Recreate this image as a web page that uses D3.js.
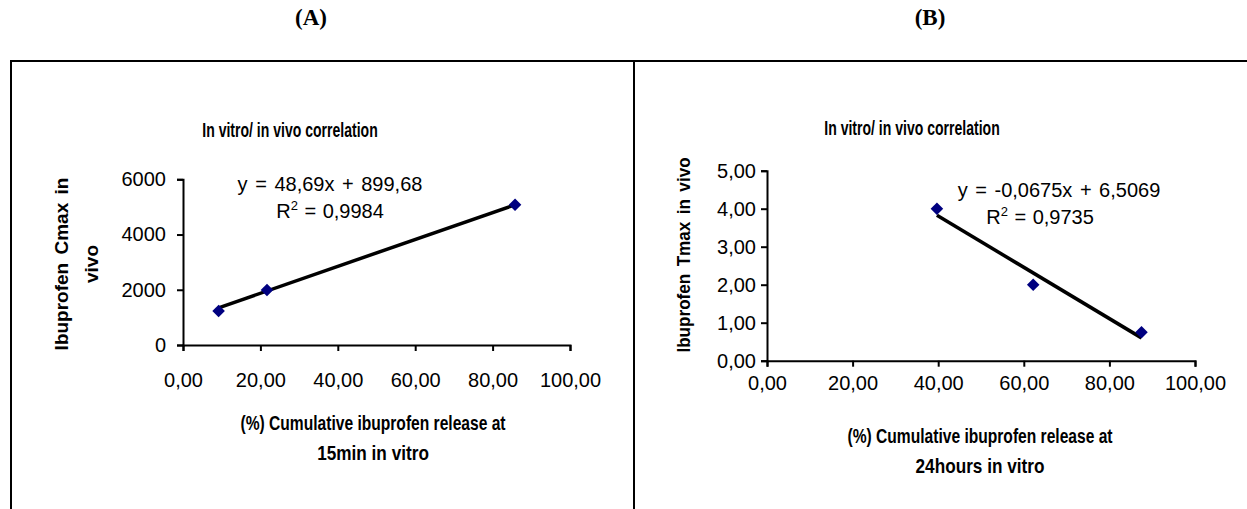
<!DOCTYPE html>
<html><head><meta charset="utf-8">
<script src="https://cdn.jsdelivr.net/npm/d3@7"></script>
<style>body{margin:0;background:#fff}svg{display:block}text{font-family:Arial,"Liberation Sans",sans-serif}</style>
</head><body><svg id="c" width="1247" height="509"></svg>
<script>
// Panel A data
const aX = [9.2, 21.7, 85.8];
const aY = [1230, 1990, 5080];
const aSlope = 48.69, aIntercept = 899.68;
const aXTicks = [0, 20, 40, 60, 80, 100];
const aYTicks = [0, 2000, 4000, 6000];
// Panel B data
const bX = [39.7, 62.2, 87.5];
const bY = [4.0, 2.0, 0.75];
const bSlope = -0.0675, bIntercept = 6.5069;
const bXTicks = [0, 20, 40, 60, 80, 100];
const bYTicks = [0, 1, 2, 3, 4, 5];

const svg = d3.select("#c");
const fmt2 = d3.format(".2f");
const comma = v => fmt2(v).replace(".", ",");
const BOLD = "Arial,'Liberation Sans',sans-serif";

// frame
svg.append("line").attr("x1",10).attr("x2",1247).attr("y1",61).attr("y2",61).attr("stroke","#000").attr("stroke-width",2);
svg.append("line").attr("x1",11).attr("x2",11).attr("y1",60).attr("y2",509).attr("stroke","#000").attr("stroke-width",2);
svg.append("line").attr("x1",634).attr("x2",634).attr("y1",60).attr("y2",509).attr("stroke","#000").attr("stroke-width",2);

[["(A)",311],["(B)",930]].forEach(([t,x])=>svg.append("text").attr("x",x).attr("y",25).attr("text-anchor","middle")
  .style("font-family","'Liberation Serif','Times New Roman',serif").style("font-size","23px").style("font-weight","bold").text(t));

function panel(o){
  const g = svg.append("g");
  const x = d3.scaleLinear().domain([0,100]).range([o.x0, o.x1]);
  const y = d3.scaleLinear().domain(o.yDomain).range([o.y0, o.y1]);
  g.append("text").attr("transform",`translate(${o.titleX},${o.titleY}) scale(0.72,1)`).attr("text-anchor","middle")
    .style("font-family",BOLD).style("font-size","19.5px").style("font-weight","bold").text("In vitro/ in vivo correlation");
  const xa = g.append("g").attr("transform",`translate(0,${o.y0})`)
    .call(d3.axisBottom(x).tickValues(o.xTicks).tickFormat(comma).tickSize(6).tickPadding(o.xPad));
  const ya = g.append("g").attr("transform",`translate(${o.x0},0)`)
    .call(d3.axisLeft(y).tickValues(o.yTicks).tickFormat(o.yFmt).tickSize(6).tickPadding(o.yPad));
  [xa,ya].forEach(a=>{
    a.selectAll("path").attr("stroke","#000").attr("stroke-width",2);
    a.selectAll("line").attr("stroke","#000").attr("stroke-width",2);
    a.selectAll("text").style("font-size","20px").attr("fill","#000").style("font-family","Arial,'Liberation Sans',sans-serif");
  });
  // trend line
  const xs = d3.extent(o.xs);
  g.append("line").attr("x1",x(xs[0])).attr("y1",y(o.slope*xs[0]+o.intercept))
    .attr("x2",x(xs[1])).attr("y2",y(o.slope*xs[1]+o.intercept))
    .attr("stroke","#000").attr("stroke-width",3.5);
  // points
  g.selectAll("path.pt").data(o.xs.map((v,i)=>[v,o.ys[i]])).enter().append("path")
    .attr("class","pt").attr("d",d3.symbol(d3.symbolDiamond2,100)())
    .attr("transform",d=>`translate(${x(d[0])},${y(d[1])})`).attr("fill","#000080");
  // equation
  g.append("text").attr("x",o.eqX).attr("y",o.eqY).attr("text-anchor","middle").style("font-size","20px")
    .style("word-spacing","2px").text(o.eq);
  const r = g.append("text").attr("x",o.rX).attr("y",o.eqY+27).attr("text-anchor","middle").style("font-size","20px").style("word-spacing","1px");
  r.append("tspan").text("R");
  r.append("tspan").attr("dy",-8).style("font-size","13px").text("2");
  r.append("tspan").attr("dy",8).text(" = " + o.r2);
  // y title
  const yt = g.append("text").attr("transform",`translate(${o.ytX},${o.ytY}) rotate(-90) scale(${o.ytScale},1)`).attr("text-anchor","middle")
    .style("font-family",BOLD).style("font-size","19px").style("font-weight","bold").style("word-spacing","3px");
  o.yTitle.forEach((t,i)=>yt.append("tspan").attr("x",0).attr("dy", i? 30:0).text(t));
  // x title
  o.xTitle.forEach((t,i)=>g.append("text").attr("transform",`translate(${o.xtX},${o.xtY+i*30}) scale(${o.xtScale[i]},1)`).attr("text-anchor","middle")
    .style("font-family",BOLD).style("font-size","20px").style("font-weight","bold").text(t));
}

panel({x0:183,x1:570,y0:345,y1:179.3,yDomain:[0,6000],xTicks:aXTicks,yTicks:aYTicks,yFmt:d3.format("d"),
  xPad:22,yPad:11,
  xs:aX,ys:aY,slope:aSlope,intercept:aIntercept,titleX:290,titleY:137,eqX:330,eqY:191,rX:330,
  eq:"y = 48,69x + 899,68",r2:"0,9984",ytX:68,ytY:264,ytScale:1,yTitle:["Ibuprofen Cmax  in","vivo"],
  xtX:373,xtY:430,xtScale:[0.78,0.86],xTitle:["(%) Cumulative ibuprofen release at","15min in vitro"]});
panel({x0:767,x1:1195,y0:360.7,y1:170.7,yDomain:[0,5],xTicks:bXTicks,yTicks:bYTicks,yFmt:comma,
  xPad:9,yPad:5,
  xs:bX,ys:bY,slope:bSlope,intercept:bIntercept,titleX:912,titleY:135,eqX:1059,eqY:197,rX:1040,
  eq:"y = -0,0675x + 6,5069",r2:"0,9735",ytX:690,ytY:255,ytScale:0.9,yTitle:["Ibuprofen Tmax  in vivo"],
  xtX:980,xtY:443,xtScale:[0.78,0.86],xTitle:["(%) Cumulative ibuprofen release at","24hours in vitro"]});
</script></body></html>
